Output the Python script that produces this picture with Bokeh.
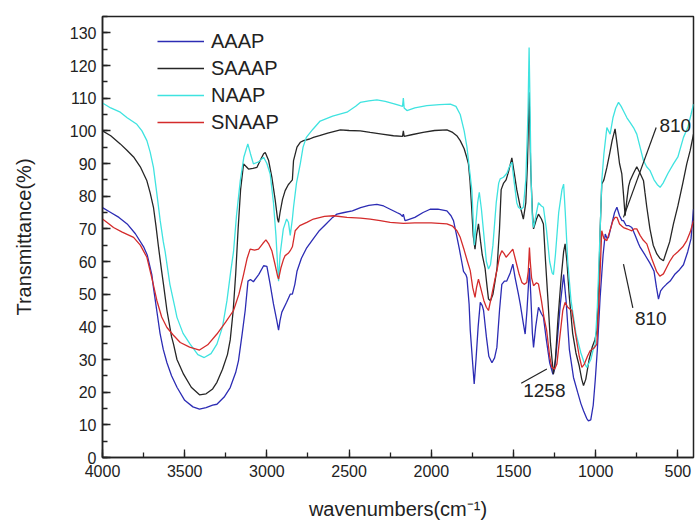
from bokeh.plotting import figure
from bokeh.models import Range1d, Legend, LegendItem, SingleIntervalTicker, ColumnDataSource
from bokeh.core.properties import value
from bokeh.embed import file_html
from bokeh.resources import INLINE

# ---------------- data ----------------
aaap_wn = [4000,3950,3900,3850,3800,3750,3728,3700,3690,3670,3650,3630,3608,3580,3547,3500,3450,3410,3370,3330,3304,3260,3223,3190,3173,3150,3132,3115,3100,3082,3050,3020,3000,2980,2960,2940,2929,2920,2909,2880,2858,2845,2830,2817,2790,2760,2717,2680,2640,2600,2574,2530,2480,2430,2380,2331,2290,2250,2210,2189,2175,2170,2160,2148,2100,2050,2007,1960,1905,1880,1865,1850,1830,1815,1804,1790,1783,1770,1763,1750,1739,1728,1715,1702,1690,1682,1665,1650,1631,1615,1601,1585,1571,1555,1541,1520,1504,1490,1470,1459,1440,1429,1418,1403,1395,1385,1378,1365,1348,1330,1318,1300,1280,1260,1250,1235,1215,1195,1180,1160,1135,1110,1090,1074,1055,1044,1030,1015,1003,990,973,955,942,930,922,900,885,871,855,840,831,815,800,780,760,740,729,700,670,645,630,618,605,590,570,547,520,490,466,440,420,405]
aaap_t = [76.5,75,73.5,71.5,68.5,64.5,62,56,52,45,38,33,29,25,21.5,17.5,15.5,14.8,15.3,16,16.3,18.5,21.4,26,29.6,38,45,54,54.5,53.8,56,58.7,58.5,53,47,42,39,42,44.5,47.5,50,50,53,57,61,64,67,69.5,71.5,73.5,74.5,75,75.5,76.5,77.2,77.5,77,76,75,74.5,73.8,74.5,72.5,72.7,73.5,75,76,76,75.5,74,72.5,69,64,60,57,56,55,47,39,30,22.5,30,40,47.5,46.5,45,37,31,29,30.5,33.7,45,53,54,54,56.5,59.2,55,50,47,41,37.8,45,58,50,38,33.7,40,46,44,43,36,29,25.5,27,35,47,56,48,33,24.5,20,16.5,14.3,12,11.2,11.5,16,23.5,33,49,62,68.4,67,67.4,72,75,76.6,74,72.5,72.5,71,71,70.4,68,65.5,64.3,62,59.5,57,52,48.5,51,52,53,54,56,57.5,59,63,67,76]

saaap_wn = [4000,3950,3892,3850,3811,3770,3730,3710,3690,3675,3659,3640,3629,3608,3580,3568,3547,3507,3460,3410,3370,3330,3304,3270,3240,3223,3205,3190,3175,3160,3142,3125,3112,3085,3061,3040,3020,3010,2990,2970,2950,2935,2929,2920,2905,2889,2870,2858,2845,2838,2817,2797,2777,2740,2717,2680,2630,2553,2500,2432,2372,2300,2230,2175,2170,2165,2120,2050,1980,1905,1870,1845,1824,1800,1785,1774,1765,1755,1745,1734,1725,1713,1700,1690,1673,1660,1652,1640,1625,1612,1600,1585,1575,1560,1545,1530,1510,1495,1480,1460,1440,1425,1415,1405,1400,1395,1385,1378,1360,1348,1330,1318,1305,1290,1275,1257,1245,1230,1210,1195,1186,1175,1160,1140,1120,1100,1085,1074,1060,1040,1020,1005,993,980,973,963,950,932,915,900,882,870,855,841,830,821,810,800,791,770,750,730,709,700,689,670,650,628,610,588,570,550,527,500,470,446,425,405]
saaap_t = [100,98.5,96,94,92,89,84.7,81,76.6,71,64.3,57,53,45,37,34.7,30,25.5,21.5,19.2,19.5,21,23,27,31.5,36,45,56,70,82,89.9,89,88.3,88.5,88.8,91,93,93.4,91,85.8,79,73,72,75,79,81.7,83.5,84.2,85,90.9,95,96.5,97,97.5,98,98.5,99.3,100.3,100.1,100,99.5,99,98.5,98.3,100,98.3,98.8,99.5,100.1,100.3,99.5,98.5,97,94.5,92,89.9,85,77,68,63.8,68,71.5,66,62,58,52,48.5,48,50,54,58,70,82,84,85,87.5,91.7,87,82,77,73,78,90,111.8,100,88,75,70,73,74.5,73,71.5,60,48,35,25.5,30,42,55,63,65.4,60,49,38,32,28,24,22,24,30,34,36,38.8,55,69.4,83.7,85,88.8,93,97,100.6,96,90,86.8,80,74,79,83,84.7,87,89,87,84.7,81,76.6,70,65,62.3,61,60.2,63,66,71.5,77,84,89.9,94,99]

naap_wn = [4000,3950,3892,3850,3791,3760,3730,3710,3690,3670,3649,3630,3619,3590,3560,3547,3510,3467,3420,3381,3340,3304,3270,3243,3220,3203,3185,3162,3140,3116,3100,3082,3050,3020,3000,2980,2960,2945,2935,2929,2920,2900,2880,2869,2858,2845,2838,2820,2797,2780,2760,2720,2676,2600,2513,2460,2432,2380,2331,2280,2220,2189,2175,2170,2165,2148,2100,2027,1950,1884,1850,1824,1800,1783,1765,1753,1738,1728,1718,1708,1695,1680,1665,1652,1640,1625,1605,1590,1581,1561,1540,1525,1510,1495,1480,1470,1455,1440,1425,1412,1405,1400,1393,1385,1378,1360,1348,1330,1318,1300,1280,1265,1257,1245,1225,1205,1195,1185,1170,1150,1120,1090,1070,1054,1030,1015,1003,990,980,973,963,950,932,922,912,895,878,861,845,830,810,790,770,750,730,710,690,669,645,625,608,590,560,527,500,466,440,420,405]
naap_t = [108.5,107,105.7,104,102,100,97,93.5,88.8,81,72.5,66,63,53,46,42.9,38,34.7,31.5,30.6,31.8,34.7,40,48,57,63,74,84.7,92,96,93,89.9,90.5,91.9,90,86.8,78,68,59,54,62,70,73,72,68,73,76.6,84,89.9,95,98,100.5,103,104.5,105.7,107.5,108.7,109.2,109.5,109,108.2,107.7,107.5,110,107,106.2,107,107.7,108,108.2,107.5,105,100,95,87,81.7,65,72,78,81.2,76,68,60,57.7,59,65,78,84,85.3,85.8,87,89,90.4,84,78,76.6,76,76.6,85,105,125.5,110,85,73,70.4,75,78,77,76.6,70,60,56.5,56,62,75,82,83.7,75,60,48,38,32,29,27.6,30,33,34.7,46,60,69.4,84.7,93,101,100,99,104,107,108.7,107.5,106,104,102.5,101,99,95,91,89,87.8,85,83.5,82.7,84,87,89.9,92,98,101,105,108.2]

snaap_wn = [4000,3960,3933,3880,3811,3770,3730,3700,3669,3640,3608,3570,3527,3470,3410,3360,3304,3250,3203,3170,3142,3120,3102,3075,3051,3025,3006,2990,2970,2950,2935,2929,2915,2900,2889,2870,2858,2845,2828,2800,2757,2717,2650,2595,2513,2430,2372,2311,2250,2169,2100,2000,1905,1870,1844,1824,1800,1780,1763,1748,1734,1725,1713,1700,1680,1665,1652,1635,1615,1601,1585,1571,1558,1545,1525,1504,1485,1465,1449,1435,1419,1410,1403,1398,1390,1378,1360,1348,1330,1315,1298,1280,1267,1250,1236,1220,1200,1186,1170,1145,1120,1100,1084,1070,1050,1034,1010,993,980,963,950,932,910,895,882,870,855,840,831,810,800,780,765,750,730,710,689,660,630,610,588,570,550,527,500,470,446,425,405]
snaap_t = [73,71.5,70.4,69,67.4,65,61.3,55,48,43,39.8,37.5,35.2,33.8,32.9,34.5,37.8,41.5,45,50,56,61,63.8,63.5,63.8,65.5,66.6,65.5,63.3,59,55.5,54.6,58,60.5,61.8,62.5,63.3,64.5,69.4,71,72,73,73.8,74,73.5,73.3,73,72.5,72,71.7,71.8,71.8,71.5,70.8,69.4,67.4,63.5,60,57.2,52,49,52,54.6,52,48,46,45,49,54,57.2,61.5,63.3,62.5,61.3,62.5,63.8,60,56,53.6,53,53.6,57,64.3,60,55,52.6,53.5,53.1,48,43,38.8,31,27.6,27,28.6,36,45,47.5,46,45,37,31,27.6,28.5,31,32.7,33.5,34.7,48,69.4,67,66.4,70,72.5,73.5,73.5,71.5,70.8,70.4,70,69.8,69.4,70,70,68,66.5,65.4,61,57,55.5,56.2,58,60,61.8,63,64.5,66.4,69,72.5]

series_names = ["AAAP", "SAAAP", "NAAP", "SNAAP"]
series_colors = ["#2c2cb4", "#262626", "#3fe3e0", "#d42b2b"]

# annotations (label, text position, pointer segment)
ann_text = ["810", "810", "1258"]
ann_tx = [612, 761, 1441]
ann_ty = [101.5, 42.5, 20.4]
ann_x0 = [632, 831, 1453]
ann_y0 = [101, 59.2, 22.7]
ann_x1 = [831, 774, 1297]
ann_y1 = [73.5, 45.8, 27.1]

# ---------------- figure ----------------
p = figure(width=695, height=522, output_backend="svg", toolbar_location=None,
           x_range=Range1d(4000, 405), y_range=Range1d(0, 135),
           min_border_left=102, min_border_right=2, min_border_top=16, min_border_bottom=65)

p.background_fill_color = "white"
p.border_fill_color = "white"
p.outline_line_color = "#222222"
p.outline_line_width = 1.5
p.grid.visible = False

font = "Liberation Sans"
for ax in (p.xaxis[0], p.yaxis[0]):
    ax.axis_line_width = 1.5
    ax.axis_line_color = "#222222"
    ax.major_tick_in = 8
    ax.major_tick_out = 0
    ax.minor_tick_in = 5
    ax.minor_tick_out = 0
    ax.major_tick_line_color = "#222222"
    ax.minor_tick_line_color = "#222222"
    ax.major_tick_line_width = 1.3
    ax.minor_tick_line_width = 1.3
    ax.major_label_text_font = font
    ax.major_label_text_font_size = "16px"
    ax.major_label_text_color = "#222222"
    ax.axis_label_text_font = font
    ax.axis_label_text_font_size = "20px"
    ax.axis_label_text_font_style = "normal"
    ax.axis_label_text_color = "#222222"

p.xaxis.ticker = SingleIntervalTicker(interval=500, num_minor_ticks=2)
p.yaxis.ticker = SingleIntervalTicker(interval=10, num_minor_ticks=2)
p.xaxis.major_label_standoff = 7
p.yaxis.major_label_standoff = 6
p.xaxis.axis_label = "wavenumbers(cm\u207b\u00b9)"
p.yaxis.axis_label = "Transmittance(%)"
p.xaxis.axis_label_standoff = 18
p.yaxis.axis_label_standoff = 32

all_wn = [aaap_wn, saaap_wn, naap_wn, snaap_wn]
all_t = [aaap_t, saaap_t, naap_t, snaap_t]
items = []
for name, col, wn, t in zip(series_names, series_colors, all_wn, all_t):
    r = p.line(wn, t, line_color=col, line_width=1.3)
    items.append(LegendItem(label=name, renderers=[r]))

src = ColumnDataSource(dict(x0=ann_x0, y0=ann_y0, x1=ann_x1, y1=ann_y1,
                            tx=ann_tx, ty=ann_ty, text=ann_text))
p.segment(x0="x0", y0="y0", x1="x1", y1="y1", source=src, line_color="#222222", line_width=1.2)
p.text(x="tx", y="ty", text="text", source=src, text_font=value(font), text_font_size="19px",
       text_color="#222222", text_align="left", text_baseline="middle")

legend = Legend(items=items, location=(55, 323), margin=0, padding=0,
                background_fill_alpha=0, border_line_alpha=0,
                label_text_font=font, label_text_font_size="20px", label_text_color="#222222",
                glyph_width=47, glyph_height=24, label_height=24, spacing=3, label_standoff=7)
p.add_layout(legend)

open("out.html", "w").write(file_html(p, INLINE))
